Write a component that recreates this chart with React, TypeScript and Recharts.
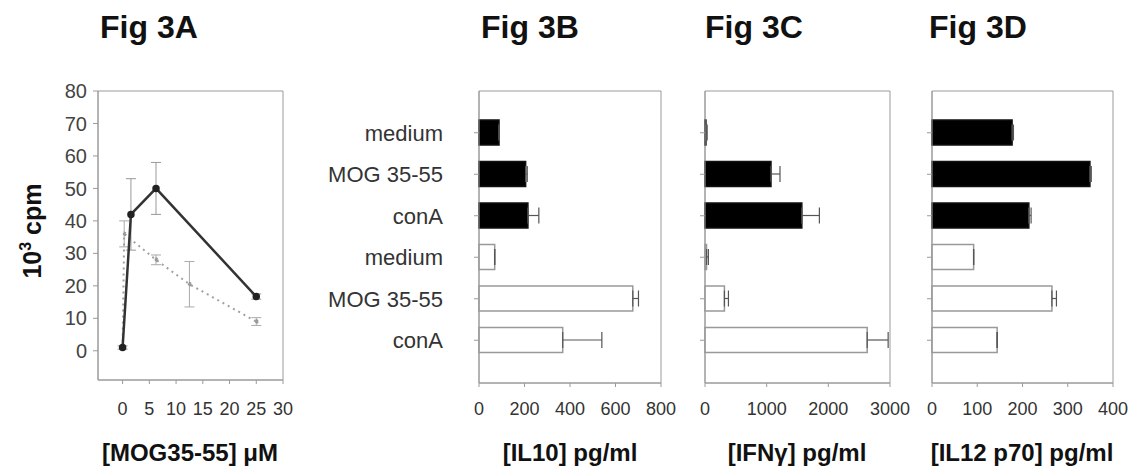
import {
  LineChart,
  Line,
  BarChart,
  Bar,
  Cell,
  XAxis,
  YAxis,
  ErrorBar,
  CartesianGrid,
} from "recharts";

// Fig 3A - proliferation (10^3 cpm) against MOG35-55 dose (uM)
const doseSolid = [0, 1.56, 6.25, 25];
const cpmSolid = [1, 42, 50, 16.7];
const cpmSolidErr = [0.5, 11, 8, 0.8];

const doseDashed = [0, 0.3, 6.25, 12.5, 25];
const cpmDashed = [1, 36, 28, 20.5, 9];
const cpmDashedErr = [0, 4, 1.5, 7, 1.2];

const doseTicks = [0, 5, 10, 15, 20, 25, 30];
const cpmTicks = [0, 10, 20, 30, 40, 50, 60, 70, 80];

// Fig 3B-D - cytokines, black bars first three rows, white bars last three
const conditions = ["medium", "MOG 35-55", "conA", "medium", "MOG 35-55", "conA"];
const filled = [true, true, true, false, false, false];

const il10 = [88, 205, 215, 69, 676, 368];
const il10Err = [0, 7, 48, 0, 25, 172];
const il10Ticks = [0, 200, 400, 600, 800];

const ifng = [15, 1070, 1570, 25, 315, 2630];
const ifngErr = [20, 146, 285, 30, 65, 340];
const ifngTicks = [0, 1000, 2000, 3000];

const il12 = [177, 349, 214, 92, 265, 144];
const il12Err = [3, 3, 5, 0, 10, 0];
const il12Ticks = [0, 100, 200, 300, 400];

const FONT = "'Liberation Sans', Arial, Helvetica, sans-serif";
const AXIS = "#9a9a9a";
const TXT = "#333";

// draws the frame round each plot area
const boxH = ({ offset }: any) => [offset.top, offset.top + offset.height];
const boxV = ({ offset }: any) => [offset.left, offset.left + offset.width];

const solidData = doseSolid.map((x, i) => ({ x, y: cpmSolid[i], e: cpmSolidErr[i] }));
const dashedData = doseDashed.map((x, i) => ({ x, y: cpmDashed[i], e: cpmDashedErr[i] }));

function PanelA() {
  return (
    <div style={{ position: "absolute", left: 0, top: 0 }}>
      <LineChart width={300} height={473} margin={{ top: 91, right: 17, bottom: 53, left: 48 }}>
        <CartesianGrid
          stroke={AXIS}
          horizontalCoordinatesGenerator={boxH}
          verticalCoordinatesGenerator={boxV}
        />
        <XAxis
          type="number"
          dataKey="x"
          domain={[-4.6, 30]}
          ticks={doseTicks}
          interval={0}
          height={40}
          tickSize={4}
          tickMargin={18}
          stroke={AXIS}
          tick={{ fontSize: 18, fill: TXT }}
          allowDuplicatedCategory={false}
        />
        <YAxis
          type="number"
          domain={[-9, 80]}
          ticks={cpmTicks}
          interval={0}
          width={50}
          tickSize={5}
          tickMargin={6}
          stroke={AXIS}
          tick={{ fontSize: 20, fill: "#444" }}
        />
        <Line
          data={dashedData}
          dataKey="y"
          stroke="#a0a0a0"
          strokeWidth={2}
          strokeDasharray="2 4"
          dot={{ r: 1.5, fill: "#999", stroke: "#999" }}
          isAnimationActive={false}
        >
          <ErrorBar dataKey="e" direction="y" width={5} stroke="#aaa" strokeWidth={1} />
        </Line>
        <Line
          data={solidData}
          dataKey="y"
          stroke="#333"
          strokeWidth={2.5}
          dot={{ r: 2.5, fill: "#222", stroke: "#222" }}
          isAnimationActive={false}
        >
          <ErrorBar dataKey="e" direction="y" width={5} stroke="#999" strokeWidth={1} />
        </Line>
      </LineChart>
    </div>
  );
}

type CytokineProps = {
  left: number;
  width: number;
  marginLeft: number;
  marginRight: number;
  yWidth: number;
  values: number[];
  errs: number[];
  ticks: number[];
  showLabels: boolean;
};

function CytokinePanel(p: CytokineProps) {
  const data = p.values.map((v, i) => ({ id: i, v, e: [0, p.errs[i]] }));
  const max = p.ticks[p.ticks.length - 1];
  return (
    <div style={{ position: "absolute", left: p.left, top: 0 }}>
      <BarChart
        layout="vertical"
        width={p.width}
        height={473}
        data={data}
        margin={{ top: 91, right: p.marginRight, bottom: 60, left: p.marginLeft }}
      >
        <CartesianGrid
          stroke={AXIS}
          horizontalCoordinatesGenerator={boxH}
          verticalCoordinatesGenerator={boxV}
        />
        <XAxis
          type="number"
          domain={[0, max]}
          ticks={p.ticks}
          interval={0}
          height={30}
          tickSize={4}
          tickMargin={15}
          stroke={AXIS}
          tick={{ fontSize: 18, fill: TXT }}
        />
        <YAxis
          type="category"
          dataKey="id"
          width={p.yWidth}
          padding={{ top: 21, bottom: 22 }}
          interval={0}
          tickSize={5}
          tickMargin={31}
          stroke={AXIS}
          tickFormatter={(v: number) => (p.showLabels ? conditions[v] : "")}
          tick={{ fontSize: 22, fill: TXT }}
        />
        <Bar dataKey="v" barSize={25} isAnimationActive={false}>
          {data.map((d) => (
            <Cell
              key={d.id}
              fill={filled[d.id] ? "#000" : "#fff"}
              stroke={filled[d.id] ? "#111" : "#999"}
              strokeWidth={1.5}
            />
          ))}
          <ErrorBar dataKey="e" direction="x" width={8} stroke="#555" strokeWidth={1.2} />
        </Bar>
      </BarChart>
    </div>
  );
}

export default function App() {
  return (
    <div
      style={{
        position: "absolute",
        left: 0,
        top: 0,
        width: 1135,
        height: 473,
        background: "#fff",
        fontFamily: FONT,
      }}
    >
      <PanelA />
      <CytokinePanel
        left={320}
        width={360}
        marginLeft={39}
        marginRight={19}
        yWidth={120}
        values={il10}
        errs={il10Err}
        ticks={il10Ticks}
        showLabels
      />
      <CytokinePanel
        left={680}
        width={230}
        marginLeft={15}
        marginRight={20}
        yWidth={10}
        values={ifng}
        errs={ifngErr}
        ticks={ifngTicks}
        showLabels={false}
      />
      <CytokinePanel
        left={900}
        width={235}
        marginLeft={22}
        marginRight={22}
        yWidth={10}
        values={il12}
        errs={il12Err}
        ticks={il12Ticks}
        showLabels={false}
      />
      <svg
        width={1135}
        height={473}
        style={{ position: "absolute", left: 0, top: 0, pointerEvents: "none" }}
        fontFamily={FONT}
      >
        <g fontSize={32} fontWeight="bold" fill="#111">
          <text x={100} y={38}>Fig 3A</text>
          <text x={481} y={38}>Fig 3B</text>
          <text x={705} y={38}>Fig 3C</text>
          <text x={929} y={38}>Fig 3D</text>
        </g>
        <g fontSize={24} fontWeight="bold" fill="#111" textAnchor="middle">
          <text x={190} y={461}>[MOG35-55] μM</text>
          <text x={570} y={461}>[IL10] pg/ml</text>
          <text x={797} y={461}>[IFNγ] pg/ml</text>
          <text x={1022} y={461}>[IL12 p70] pg/ml</text>
        </g>
        <text
          x={41}
          y={231}
          transform="rotate(-90 41 231)"
          textAnchor="middle"
          fontSize={25}
          fontWeight="bold"
          fill="#111"
        >
          10<tspan fontSize={16} dy={-10}>3</tspan>
          <tspan dy={10}> cpm</tspan>
        </text>
      </svg>
    </div>
  );
}
